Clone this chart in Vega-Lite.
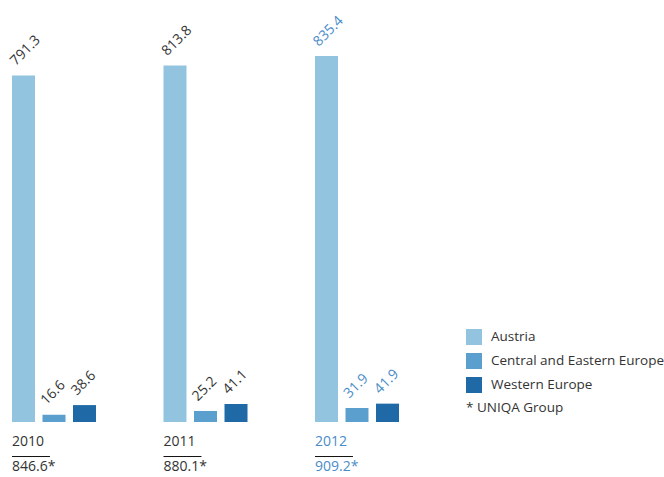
{
  "$schema": "https://vega.github.io/schema/vega-lite/v6.json",
  "width": 664,
  "height": 477,
  "autosize": "none",
  "padding": 0,
  "config": {"view": {"stroke": null}, "font": "Open Sans"},
  "datasets": {
    "bars": [
      {"year": "2010", "region": "Austria", "value": 791.3},
      {"year": "2010", "region": "Central and Eastern Europe", "value": 16.6},
      {"year": "2010", "region": "Western Europe", "value": 38.6},
      {"year": "2011", "region": "Austria", "value": 813.8},
      {"year": "2011", "region": "Central and Eastern Europe", "value": 25.2},
      {"year": "2011", "region": "Western Europe", "value": 41.1},
      {"year": "2012", "region": "Austria", "value": 835.4},
      {"year": "2012", "region": "Central and Eastern Europe", "value": 31.9},
      {"year": "2012", "region": "Western Europe", "value": 41.9}
    ],
    "totals": [
      {"year": "2010", "total": "846.6*"},
      {"year": "2011", "total": "880.1*"},
      {"year": "2012", "total": "909.2*"}
    ]
  },
  "layer": [
    {
      "data": {"name": "bars"},
      "mark": {"type": "bar"},
      "encoding": {
        "x": {"field": "year", "type": "nominal", "scale": {"range": [12, 399], "paddingInner": 0.4455, "paddingOuter": 0}, "axis": null},
        "xOffset": {"field": "region", "type": "nominal", "sort": ["Austria", "Central and Eastern Europe", "Western Europe"], "scale": {"paddingInner": 0.246, "paddingOuter": 0}},
        "y": {"field": "value", "type": "quantitative", "scale": {"domain": [0, 963.4], "range": [422, 0], "nice": false}, "axis": null},
        "color": {
          "field": "region", "type": "nominal",
          "scale": {"domain": ["Austria", "Central and Eastern Europe", "Western Europe"], "range": ["#92c4df", "#5b9fcf", "#1f69a6"]},
          "legend": {
            "orient": "none", "legendX": 466, "legendY": 329,
            "title": "* UNIQA Group", "titleOrient": "bottom", "titleAnchor": "start",
            "titleFontWeight": "normal", "titleFontSize": 13.5, "titleColor": "#333333", "titleFont": "Open Sans",
            "labelFontSize": 13.5, "labelColor": "#333333", "labelFont": "Open Sans", "labelOffset": 9, "labelLimit": 300,
            "symbolType": "square", "symbolSize": 256, "symbolStrokeWidth": 0, "rowPadding": 8, "titlePadding": 8
          }
        }
      }
    },
    {
      "data": {"name": "bars"},
      "mark": {"type": "text", "angle": 315, "align": "left", "baseline": "alphabetic", "dx": 1, "dy": -12, "fontSize": 14},
      "encoding": {
        "x": {"field": "year", "type": "nominal"},
        "xOffset": {"field": "region", "type": "nominal", "sort": ["Austria", "Central and Eastern Europe", "Western Europe"]},
        "y": {"field": "value", "type": "quantitative"},
        "text": {"field": "value", "type": "quantitative", "format": ".1f"},
        "fill": {"condition": {"test": "datum.year === '2012'", "value": "#4a8cc8"}, "value": "#333333"}
      }
    },
    {
      "data": {"name": "totals"},
      "mark": {"type": "text", "align": "left", "baseline": "alphabetic", "fontSize": 14},
      "encoding": {
        "x": {"field": "year", "type": "nominal", "bandPosition": 0},
        "y": {"datum": -55},
        "text": {"field": "year"},
        "fill": {"condition": {"test": "datum.year === '2012'", "value": "#4a8cc8"}, "value": "#333333"}
      }
    },
    {
      "data": {"name": "totals"},
      "mark": {"type": "rule", "color": "#111111", "strokeWidth": 1},
      "encoding": {
        "x": {"field": "year", "type": "nominal", "bandPosition": 0},
        "x2": {"field": "year", "bandPosition": 0.452},
        "y": {"datum": -78.8}
      }
    },
    {
      "data": {"name": "totals"},
      "mark": {"type": "text", "align": "left", "baseline": "alphabetic", "fontSize": 14},
      "encoding": {
        "x": {"field": "year", "type": "nominal", "bandPosition": 0},
        "y": {"datum": -112},
        "text": {"field": "total"},
        "fill": {"condition": {"test": "datum.year === '2012'", "value": "#4a8cc8"}, "value": "#333333"}
      }
    }
  ]
}
